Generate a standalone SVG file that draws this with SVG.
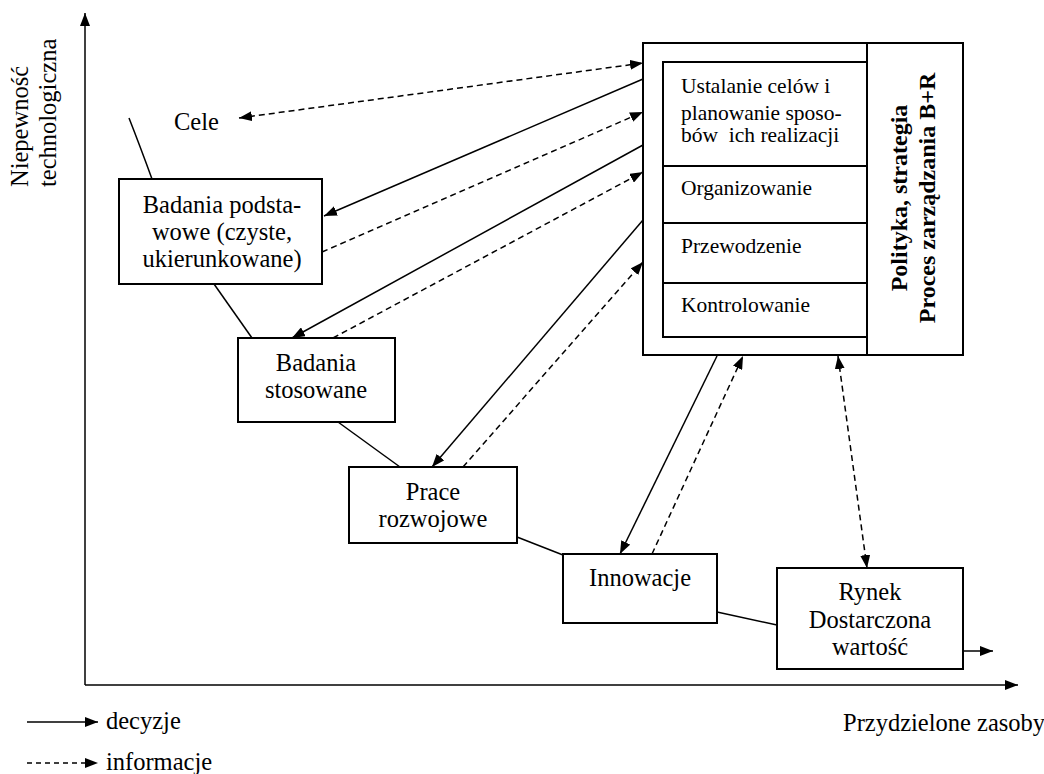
<svg xmlns="http://www.w3.org/2000/svg" width="1044" height="774" viewBox="0 0 1044 774">
<style>
text{font-family:"Liberation Serif","Times New Roman",serif;font-size:24.5px;fill:#000}
.sm{font-size:21.5px}
.b{font-weight:bold;font-size:24px}
.mid{text-anchor:middle}
.box{fill:#fff;stroke:#000;stroke-width:2}
.ln{fill:none;stroke:#000;stroke-width:1.5}
.dash{fill:none;stroke:#000;stroke-width:1.5;stroke-dasharray:6 4}
</style>
<defs>
<marker id="ah" viewBox="0 0 13 10" refX="13" refY="5" markerWidth="13" markerHeight="10" markerUnits="userSpaceOnUse" orient="auto-start-reverse">
<path d="M0,0 L13,5 L0,10 z" fill="#000"/>
</marker>
</defs>
<rect width="1044" height="774" fill="#fff"/>

<g id="axes">
<line class="ln" x1="85" y1="685" x2="85" y2="13" marker-end="url(#ah)"/>
<line class="ln" x1="85" y1="685" x2="1018" y2="685" marker-end="url(#ah)"/>
<text transform="translate(28,187) rotate(-90)">Niepewność</text>
<text transform="translate(56,187) rotate(-90)">technologiczna</text>
<text x="843" y="731">Przydzielone zasoby</text>
</g>

<g id="curve">
<path class="ln" d="M129,118 Q140,146 152,179"/>
<line class="ln" x1="214" y1="284" x2="252" y2="338"/>
<line class="ln" x1="338" y1="422" x2="400" y2="467"/>
<line class="ln" x1="517" y1="537" x2="563" y2="555"/>
<line class="ln" x1="717" y1="612" x2="777" y2="625"/>
</g>

<g id="connectors">
<line class="dash" x1="239" y1="118" x2="643" y2="63" marker-start="url(#ah)" marker-end="url(#ah)"/>
<line class="ln" x1="643" y1="79" x2="324" y2="216" marker-end="url(#ah)"/>
<line class="dash" x1="322" y1="252" x2="643" y2="112" marker-end="url(#ah)"/>
<line class="ln" x1="643" y1="145" x2="292" y2="338" marker-end="url(#ah)"/>
<line class="dash" x1="333" y1="338" x2="643" y2="172" marker-end="url(#ah)"/>
<line class="ln" x1="643" y1="220" x2="432" y2="467" marker-end="url(#ah)"/>
<line class="dash" x1="463" y1="467" x2="643" y2="262" marker-end="url(#ah)"/>
<line class="ln" x1="717" y1="356" x2="620" y2="554" marker-end="url(#ah)"/>
<line class="dash" x1="652" y1="554" x2="743" y2="356" marker-end="url(#ah)"/>
<line class="dash" x1="838" y1="356" x2="867" y2="568" marker-start="url(#ah)" marker-end="url(#ah)"/>
<line class="ln" x1="963" y1="651" x2="993" y2="651" marker-end="url(#ah)"/>
</g>

<g id="cele">
<text x="174" y="130">Cele</text>
</g>

<g id="badania-podstawowe">
<rect class="box" x="119" y="179" width="203" height="105"/>
<text class="mid" x="222" y="213">Badania podsta-</text>
<text class="mid" x="222" y="240">wowe (czyste,</text>
<text class="mid" x="222" y="267">ukierunkowane)</text>
</g>

<g id="badania-stosowane">
<rect class="box" x="238" y="338" width="157" height="84"/>
<text class="mid" x="316" y="371">Badania</text>
<text class="mid" x="316" y="398">stosowane</text>
</g>

<g id="prace-rozwojowe">
<rect class="box" x="349" y="467" width="168" height="76"/>
<text class="mid" x="433" y="500">Prace</text>
<text class="mid" x="433" y="527">rozwojowe</text>
</g>

<g id="innowacje">
<rect class="box" x="563" y="554" width="154" height="69"/>
<text class="mid" x="640" y="586">Innowacje</text>
</g>

<g id="rynek">
<rect class="box" x="777" y="568" width="186" height="101"/>
<text class="mid" x="870" y="600">Rynek</text>
<text class="mid" x="870" y="628">Dostarczona</text>
<text class="mid" x="870" y="655">wartość</text>
</g>

<g id="zarzadzanie">
<rect class="box" x="643" y="43" width="320" height="312"/>
<line class="ln" x1="867" y1="43" x2="867" y2="355" style="stroke-width:2"/>
<rect class="box" x="663" y="62" width="204" height="275"/>
<line class="ln" x1="663" y1="166" x2="867" y2="166" style="stroke-width:2"/>
<line class="ln" x1="663" y1="223" x2="867" y2="223" style="stroke-width:2"/>
<line class="ln" x1="663" y1="283" x2="867" y2="283" style="stroke-width:2"/>
<text class="sm" x="681" y="93">Ustalanie celów i</text>
<text class="sm" x="681" y="120">planowanie sposo-</text>
<text class="sm" x="681" y="142" xml:space="preserve">bów  ich realizacji</text>
<text class="sm" x="681" y="195">Organizowanie</text>
<text class="sm" x="681" y="253">Przewodzenie</text>
<text class="sm" x="681" y="312">Kontrolowanie</text>
<text class="b mid" transform="translate(907,198) rotate(-90)">Polityka, strategia</text>
<text class="b mid" transform="translate(935,198) rotate(-90)">Proces zarządzania B+R</text>
</g>

<g id="legend">
<line class="ln" x1="27" y1="722" x2="98" y2="722" marker-end="url(#ah)"/>
<text x="106" y="729">decyzje</text>
<line class="dash" x1="27" y1="763" x2="98" y2="763" style="stroke-dasharray:5 4" marker-end="url(#ah)"/>
<text x="106" y="770">informacje</text>
</g>
</svg>
